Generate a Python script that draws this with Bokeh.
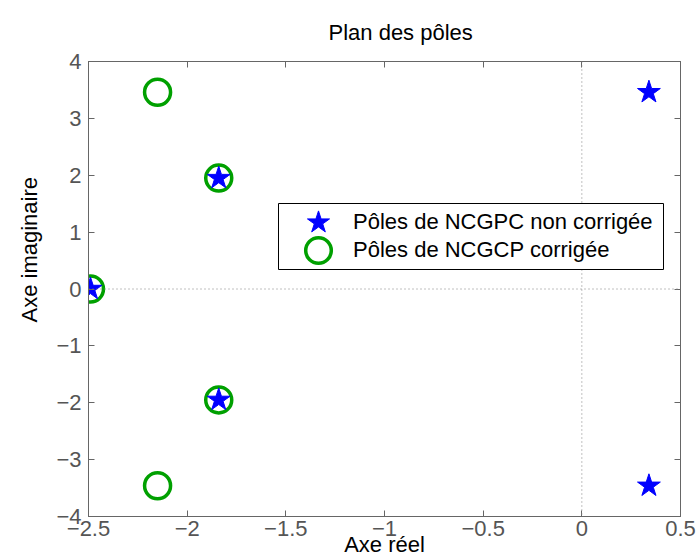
import math
from bokeh.plotting import figure
from bokeh.models import (LinearAxis, FixedTicker, CustomJSTickFormatter, Span,
                          Legend, LegendItem, Title, Range1d, BoxAnnotation)
from bokeh.embed import file_html
from bokeh.resources import INLINE

# ---- data ----
title_text = "Plan des pôles"
x_label = "Axe réel"
y_label = "Axe imaginaire"
x_ticks = [-2.5, -2, -1.5, -1, -0.5, 0, 0.5]
x_tick_labels = ["−2.5", "−2", "−1.5", "−1", "−0.5", "0", "0.5"]
y_ticks = [-4, -3, -2, -1, 0, 1, 2, 3, 4]
y_tick_labels = ["−4", "−3", "−2", "−1", "0", "1", "2", "3", "4"]

uncorr_re = [-2.49, -1.84, -1.84, 0.34, 0.34]
uncorr_im = [0.0, 1.95, -1.95, 3.46, -3.46]
corr_re = [-2.49, -1.84, -1.84, -2.15, -2.15]
corr_im = [0.0, 1.95, -1.95, 3.46, -3.46]
legend_labels = ["Pôles de NCGPC non corrigée", "Pôles de NCGCP corrigée"]

FONT = "Liberation Sans"
AX = "#666666"
LBL = "#555555"

p = figure(width=697, height=560, x_range=Range1d(-2.5, 0.5), y_range=Range1d(-4, 4),
           output_backend="svg", toolbar_location=None, title=None,
           min_border_left=88, min_border_right=17, min_border_top=59, min_border_bottom=44)
p.background_fill_color = "white"
p.border_fill_color = "white"
p.outline_line_color = AX
p.outline_line_width = 1
p.xgrid.visible = False
p.ygrid.visible = False

label_code = """
const i = tvals.findIndex(t => Math.abs(t - tick) < 1e-9);
return i >= 0 ? tlabels[i] : '';
"""
blank_code = "return '';"


def style_axis(ax, ticks, labels, show):
    ax.ticker = FixedTicker(ticks=ticks)
    if show:
        ax.formatter = CustomJSTickFormatter(args=dict(tvals=ticks, tlabels=labels), code=label_code)
    else:
        ax.formatter = CustomJSTickFormatter(code=blank_code)
        ax.major_label_standoff = 0
    ax.major_tick_in = 6
    ax.major_tick_out = 0
    ax.minor_tick_line_color = None
    ax.axis_line_color = AX
    ax.major_tick_line_color = AX
    ax.major_label_text_font = FONT
    ax.major_label_text_font_size = "22px"
    ax.major_label_text_color = LBL
    ax.axis_label_text_font = FONT
    ax.axis_label_text_font_size = "22px"
    ax.axis_label_text_font_style = "normal"
    ax.axis_label_text_color = "black"


style_axis(p.xaxis[0], x_ticks, x_tick_labels, True)
p.xaxis[0].major_label_standoff = 4
p.xaxis[0].axis_label = x_label
p.xaxis[0].axis_label_standoff = -7
style_axis(p.yaxis[0], y_ticks, y_tick_labels, True)
p.yaxis[0].major_label_standoff = 7

top_ax = LinearAxis()
style_axis(top_ax, x_ticks, x_tick_labels, False)
p.add_layout(top_ax, "above")
right_ax = LinearAxis()
style_axis(right_ax, y_ticks, y_tick_labels, False)
p.add_layout(right_ax, "right")

title = Title(text=title_text, align="left", offset=240, text_font=FONT,
              text_font_size="22px", text_font_style="normal", text_color="black", standoff=34)
p.add_layout(title, "above")

ylab = Title(text=y_label, align="left", offset=194, text_font=FONT,
             text_font_size="22px", text_font_style="normal", text_color="black", standoff=24)
p.add_layout(ylab, "left")

# zero lines
p.add_layout(Span(location=0, dimension="height", line_color="#808080", line_dash="1 3", line_width=1))
p.add_layout(Span(location=0, dimension="width", line_color="#808080", line_dash="1 3", line_width=1))

r_circ = p.scatter(corr_re, corr_im, marker="circle", size=26, fill_color=None,
                   line_color="#00a000", line_width=3.5)
r_star = p.scatter(uncorr_re, uncorr_im, marker="star", size=24, fill_color="#0000ff",
                   line_color="#0000ff", line_width=1)

# legend frame
p.add_layout(BoxAnnotation(left=190, right=575, bottom=247, top=313,
                           left_units="screen", right_units="screen",
                           bottom_units="screen", top_units="screen",
                           fill_color="white", fill_alpha=1, line_color="black",
                           line_width=1, line_alpha=1))

common = dict(padding=0, margin=0, label_text_font=FONT, label_text_font_size="22px",
              label_text_color="black", border_line_color=None, background_fill_alpha=0)
leg1 = Legend(items=[LegendItem(label=legend_labels[0], renderers=[r_star])],
              location=(201, 265), glyph_height=58, glyph_width=58, label_standoff=6, **common)
leg2 = Legend(items=[LegendItem(label=legend_labels[1], renderers=[r_circ])],
              location=(198, 234), glyph_height=64, glyph_width=64, label_standoff=3, **common)
p.add_layout(leg1)
p.add_layout(leg2)

open("out.html", "w").write(file_html(p, INLINE))
